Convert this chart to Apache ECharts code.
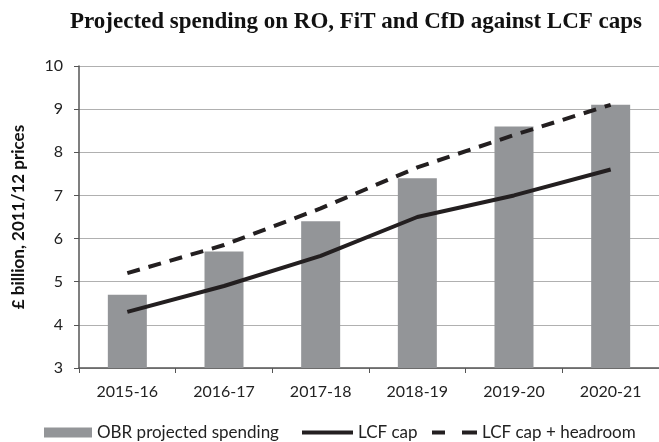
<!DOCTYPE html>
<html><head><meta charset="utf-8">
<script src="https://cdn.jsdelivr.net/npm/echarts@6/dist/echarts.min.js"></script>
<style>html,body{margin:0;padding:0;background:#fff}#c{width:659px;height:442px}</style>
</head><body><div id="c"></div>
<script>
const categories = ['2015-16','2016-17','2017-18','2018-19','2019-20','2020-21'];
const obrSpending = [4.7, 5.7, 6.4, 7.4, 8.6, 9.1];
const lcfCap = [4.3, 4.9, 5.6, 6.5, 7.0, 7.6];
const lcfHeadroom = [5.2, 5.85, 6.7, 7.65, 8.4, 9.1];
const yTicks = {min: 3, max: 10, interval: 1};
const seriesNames = ['OBR projected spending', 'LCF cap', 'LCF cap + headroom'];

const chart = echarts.init(document.getElementById('c'));
const lab = {fontFamily: 'Lato', fontSize: 16, color: '#222'};
const legTxt = {fontFamily: 'Lato', fontSize: 17, color: '#222'};
chart.setOption({
  animation: false,
  title: {
    text: 'Projected spending on RO, FiT and CfD against LCF caps',
    left: 351, top: 6, textAlign: 'center',
    textStyle: {fontFamily: 'Liberation Serif', fontWeight: 'bold', fontSize: 23, color: '#111'}
  },
  graphic: [{
    type: 'text', x: 19, y: 217, rotation: Math.PI / 2,
    style: {text: '£ billion, 2011/12 prices', fontFamily: 'Lato', fontWeight: 'bold', fontSize: 17,
      fill: '#111', align: 'center', verticalAlign: 'middle'}
  }],
  legend: [
    {left: 39, top: 419, itemWidth: 48, itemHeight: 10, itemGap: 6, textStyle: legTxt,
      data: [{name: seriesNames[0], icon: 'rect'}]},
    {left: 297, top: 419, itemWidth: 51, itemHeight: 4, textStyle: legTxt,
      data: [{name: seriesNames[1], icon: 'path://M0,0L51,0L51,4L0,4Z'}]},
    {left: 427, top: 419, itemWidth: 45, itemHeight: 4, textStyle: legTxt,
      data: [{name: seriesNames[2], icon: 'path://M0,0L13,0L13,4L0,4Z M30,0L45,0L45,4L30,4Z'}]}
  ],
  grid: {left: 79, right: 0, top: 66, bottom: 74},
  xAxis: {
    type: 'category', data: categories,
    axisLine: {lineStyle: {color: '#555', width: 1.5}},
    axisTick: {show: true, length: 5, lineStyle: {color: '#555'}},
    axisLabel: Object.assign({margin: 16}, lab),
    splitLine: {show: false}
  },
  yAxis: {
    type: 'value', min: yTicks.min, max: yTicks.max, interval: yTicks.interval,
    axisLine: {show: true, lineStyle: {color: '#555', width: 1.5}},
    axisTick: {show: true, length: 5, lineStyle: {color: '#555'}},
    axisLabel: Object.assign({margin: 16}, lab),
    splitLine: {lineStyle: {color: '#b0b0b0', width: 1}}
  },
  series: [
    {name: seriesNames[0], type: 'bar', data: obrSpending, barWidth: 39,
      itemStyle: {color: '#939598'}},
    {name: seriesNames[1], type: 'line', data: lcfCap, symbol: 'none',
      lineStyle: {color: '#231f20', width: 4}, itemStyle: {color: '#231f20'}},
    {name: seriesNames[2], type: 'line', data: lcfHeadroom, symbol: 'none',
      lineStyle: {color: '#231f20', width: 4, type: [13, 9]}, itemStyle: {color: '#231f20'}}
  ]
});
</script></body></html>
